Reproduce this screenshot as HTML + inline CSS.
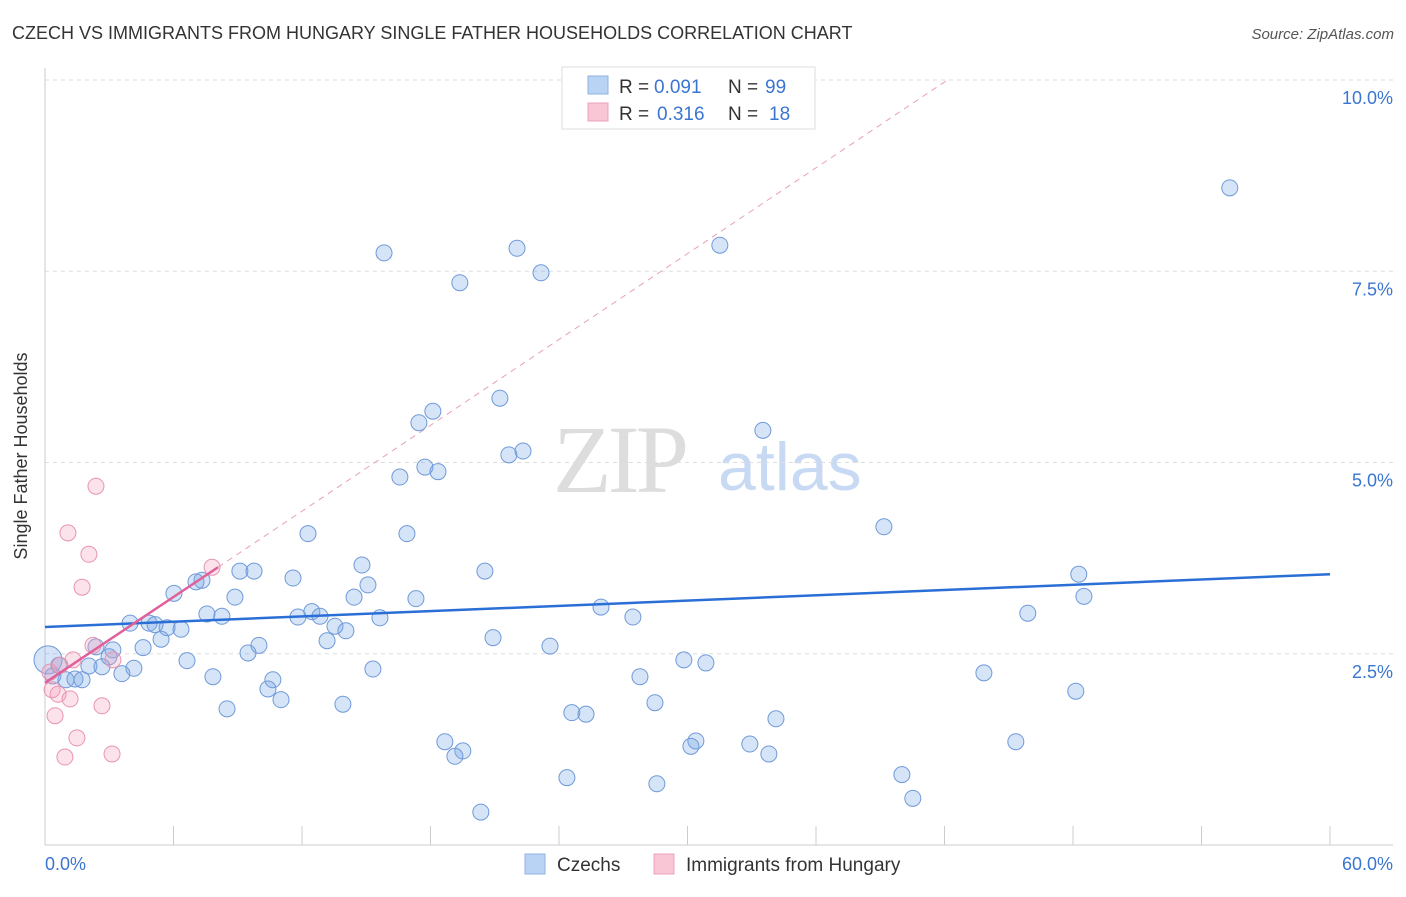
<!DOCTYPE html>
<html><head><meta charset="utf-8"><style>
body{margin:0;background:#fff;font-family:"Liberation Sans",sans-serif;}
</style></head><body>
<svg width="1406" height="892" viewBox="0 0 1406 892" xmlns="http://www.w3.org/2000/svg">
<text x="12" y="39" font-size="18" fill="#333">CZECH VS IMMIGRANTS FROM HUNGARY SINGLE FATHER HOUSEHOLDS CORRELATION CHART</text>
<text x="1394" y="39" font-size="15" fill="#555" font-style="italic" text-anchor="end">Source: ZipAtlas.com</text>
<g>
<text x="553" y="492" font-size="96" font-family="Liberation Serif,serif" fill="#ddd" letter-spacing="-4">ZIP</text>
<text x="718" y="490" font-size="68" fill="#c8daf3">atlas</text>
</g>
<g id="grid"></g>
<g id="axes"></g>
<g id="trends"></g>
<g id="pts"></g>
<text x="27" y="456" font-size="18" fill="#333" text-anchor="middle" transform="rotate(-90 27 456)">Single Father Households</text>
<g>
<rect x="562" y="67" width="253" height="62" fill="#fff" stroke="#ddd"/>
<rect x="588" y="76" width="20" height="18" fill="#b9d3f5" stroke="#8fb0e0"/>
<rect x="588" y="103" width="20" height="18" fill="#f9c6d6" stroke="#eda0b8"/>
<text x="619" y="93" font-size="19" fill="#333">R =</text>
<text x="654" y="93" font-size="19" fill="#3a76d0">0.091</text>
<text x="728" y="93" font-size="19" fill="#333">N =</text>
<text x="765" y="93" font-size="19" fill="#3a76d0">99</text>
<text x="619" y="120" font-size="19" fill="#333">R =</text>
<text x="657" y="120" font-size="19" fill="#3a76d0">0.316</text>
<text x="728" y="120" font-size="19" fill="#333">N =</text>
<text x="769" y="120" font-size="19" fill="#3a76d0">18</text>
</g>
<g>
<rect x="525" y="854" width="20" height="20" fill="#b9d3f5" stroke="#8fb0e0"/>
<text x="557" y="871" font-size="19" fill="#333">Czechs</text>
<rect x="654" y="854" width="20" height="20" fill="#f9c6d6" stroke="#eda0b8"/>
<text x="686" y="871" font-size="19" fill="#333">Immigrants from Hungary</text>
</g>
<script>
const yTicks=[2.5,5,7.5,10];
const yTickLabels=["2.5%","5.0%","7.5%","10.0%"];
const xTicks=[0,6,12,18,24,30,36,42,48,54,60];
const czX=[0.14,55.32,15.83,22.04,31.51,23.16,19.37,21.24,18.11,17.46,33.52,22.32,21.66,17.74,18.35,16.57,39.17,12.28,16.90,14.80,20.54,9.10,9.76,48.27,11.58,7.33,7.05,15.08,6.02,8.87,14.43,17.32,48.51,25.96,7.56,8.26,12.46,12.84,11.81,15.64,27.45,45.89,3.97,4.86,5.14,5.70,6.35,13.54,14.05,13.17,5.42,20.92,9.99,23.58,2.38,3.17,4.58,9.48,2.99,6.63,29.83,30.86,2.05,0.65,2.66,4.15,15.31,3.59,7.84,10.64,27.78,43.84,0.37,0.98,1.40,1.73,10.41,48.13,11.02,28.48,13.91,8.50,24.60,25.26,34.13,18.67,45.33,30.39,32.91,30.16,19.51,19.14,33.80,24.37,40.01,28.57,40.52,20.35];
const czY=[2.42,8.59,7.74,7.80,7.84,7.48,7.35,5.84,5.67,5.52,5.42,5.15,5.10,4.94,4.88,4.81,4.16,4.07,4.07,3.66,3.58,3.58,3.58,3.54,3.49,3.46,3.44,3.40,3.29,3.24,3.24,3.22,3.25,3.11,3.02,2.99,3.05,2.99,2.98,2.97,2.98,3.03,2.90,2.90,2.88,2.84,2.82,2.86,2.80,2.67,2.69,2.71,2.61,2.60,2.59,2.55,2.58,2.51,2.46,2.41,2.42,2.38,2.34,2.35,2.33,2.31,2.30,2.24,2.20,2.16,2.20,2.25,2.21,2.16,2.17,2.16,2.04,2.01,1.90,1.86,1.84,1.78,1.73,1.71,1.65,1.35,1.35,1.36,1.32,1.29,1.23,1.16,1.19,0.88,0.92,0.80,0.61,0.43];
const huX=[2.38,1.07,2.05,1.73,7.80,2.24,3.17,1.31,0.70,0.23,0.33,0.61,1.17,2.66,0.47,1.49,0.93,3.13];
const huY=[4.69,4.08,3.80,3.37,3.63,2.61,2.42,2.42,2.35,2.26,2.03,1.97,1.91,1.82,1.69,1.40,1.15,1.19];
const czTrend=[2.85,3.54];
const huTrend=[2.12,0.187];
const X=v=>45+v*(1285/60), Y=v=>845-v*76.5;
const NS="http://www.w3.org/2000/svg";
function mk(p,t,a){const e=document.createElementNS(NS,t);for(const k in a)e.setAttribute(k,a[k]);document.getElementById(p).appendChild(e);return e;}
yTicks.forEach((t,i)=>{
 const l=mk('grid','line',{x1:45,x2:1393,y1:Y(t),y2:Y(t),stroke:'#ddd','stroke-dasharray':'4,4'});
 
 
 const tx=mk('grid','text',{x:1393,y:Y(t)+24,'font-size':18,fill:'#3a76d0','text-anchor':'end'});
 tx.textContent=yTickLabels[i];
 
 
});
mk('axes','line',{x1:45,x2:45,y1:68,y2:845,stroke:'#ccc'});
mk('axes','line',{x1:45,x2:1393,y1:845,y2:845,stroke:'#ccc'});
xTicks.forEach(t=>{const l=mk('axes','line',{x1:X(t),x2:X(t),y1:826,y2:845,stroke:'#ccc'});
 
 });
[[0,"0.0%",'start',45],[60,"60.0%",'end',1393]].forEach(d=>{const t=mk('axes','text',{x:d[3],y:870,'font-size':18,fill:'#3a76d0','text-anchor':d[2]});t.textContent=d[1];
 
 });
const xEnd=(10-huTrend[0])/huTrend[1];
const hd=mk('trends','line',{x1:X(8.08),y1:Y(huTrend[0]+huTrend[1]*8.08),x2:X(xEnd),y2:Y(10),stroke:'#e8a0b8','stroke-dasharray':'6,5'});


czX.forEach((x,i)=>{const c=mk('pts','circle',{cx:X(x),cy:Y(czY[i]),r:i==0?14:8,fill:'rgba(120,165,230,0.3)',stroke:'#6f9ad9','stroke-width':1});
 
 });
huX.forEach((x,i)=>{const c=mk('pts','circle',{cx:X(x),cy:Y(huY[i]),r:8,fill:'rgba(245,160,190,0.3)',stroke:'#e895b1','stroke-width':1});
 
 });
const ct=mk('pts','line',{x1:X(0),y1:Y(czTrend[0]),x2:X(60),y2:Y(czTrend[1]),stroke:'#2a6fd6','stroke-width':2.5});


const ht=mk('pts','line',{x1:X(0),y1:Y(huTrend[0]),x2:X(8.08),y2:Y(huTrend[0]+huTrend[1]*8.08),stroke:'#e0609a','stroke-width':2.5});


</script>
</svg>
</body></html>
